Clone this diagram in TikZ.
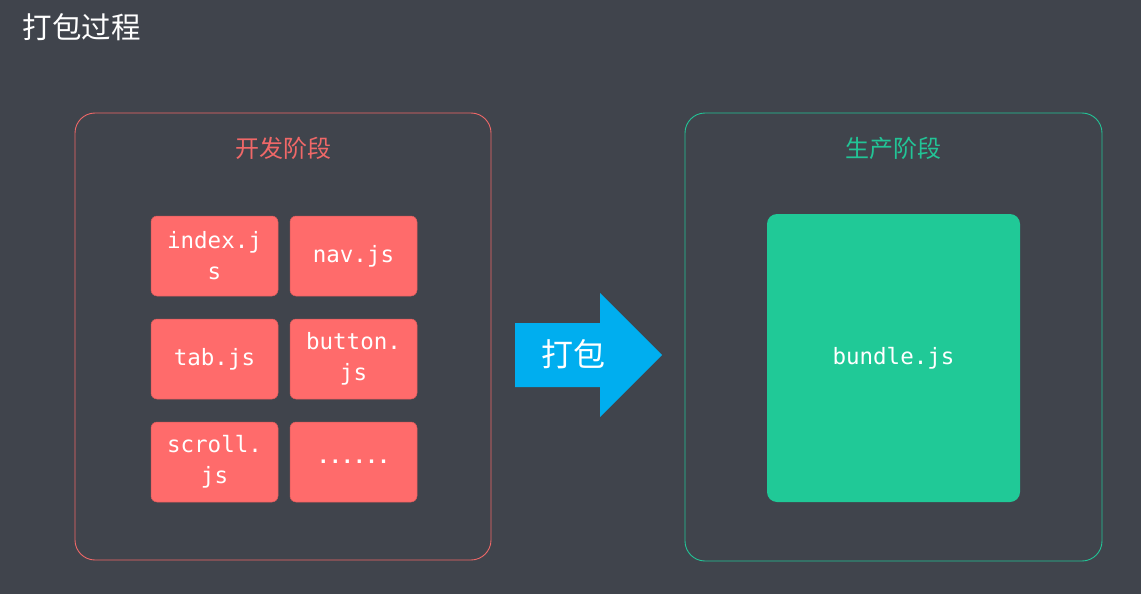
\documentclass[tikz,border=0pt]{standalone}
\usepackage{fontspec}
\newfontfamily\cjk{Noto Sans CJK SC}
\newfontfamily\monofnt{DejaVu Sans Mono}
\definecolor{bgc}{RGB}{64,68,76}
\definecolor{devred}{RGB}{240,104,104}
\definecolor{filered}{RGB}{255,107,107}
\definecolor{prodgreen}{RGB}{34,196,150}
\definecolor{fillgreen}{RGB}{32,201,151}
\definecolor{arrowblue}{RGB}{0,174,239}
\tikzset{
  stagebox/.style={draw, line width=0.9pt, rounded corners=20pt},
  filebox/.style={fill=filered, draw=filered!85!black, line width=0.5pt, rounded corners=6pt,
    minimum width=127pt, minimum height=80pt, inner sep=0pt, text=white,
    font=\monofnt\fontsize{22.5}{31}\selectfont, align=center},
  stagelabel/.style={font=\cjk\fontsize{24}{28}\selectfont}
}
\begin{document}
\begin{tikzpicture}[x=1pt,y=-1pt]
\fill[bgc] (0,0) rectangle (1141,594);
\useasboundingbox (0,0) rectangle (1141,594);
\node[anchor=west, text=white, font=\cjk\fontsize{29.5}{34}\selectfont] (title) at (19,27) {打包过程};
% development stage
\draw[stagebox, devred] (75,113) rectangle (491,560);
\node[stagelabel, text=devred] (devlabel) at (283,148) {开发阶段};
\node[filebox] (index) at (214.5,256) {index.j\\s};
\node[filebox] (nav) at (353.5,256) {nav.js};
\node[filebox] (tab) at (214.5,359) {tab.js};
\node[filebox] (button) at (353.5,359) {button.\\js};
\node[filebox] (scroll) at (214.5,462) {scroll.\\js};
\node[filebox, font=\monofnt\bfseries\fontsize{20}{31}\selectfont] (more) at (353.5,462) {......};
% arrow
\fill[arrowblue] (515,323) -- (600,323) -- (600,293) -- (662,355) -- (600,417) -- (600,387) -- (515,387) -- cycle;
\node[text=white, font=\cjk\fontsize{32}{36}\selectfont] (pack) at (573,354) {打包};
% production stage
\draw[stagebox, prodgreen] (685,113) rectangle (1102,561);
\node[stagelabel, text=prodgreen] (prodlabel) at (893,148) {生产阶段};
\node[fill=fillgreen, rounded corners=10pt, minimum width=253pt, minimum height=288pt,
  inner sep=0pt, text=white, font=\monofnt\fontsize{22.5}{31}\selectfont] (bundle) at (893.5,358) {bundle.js};
\end{tikzpicture}
\end{document}
